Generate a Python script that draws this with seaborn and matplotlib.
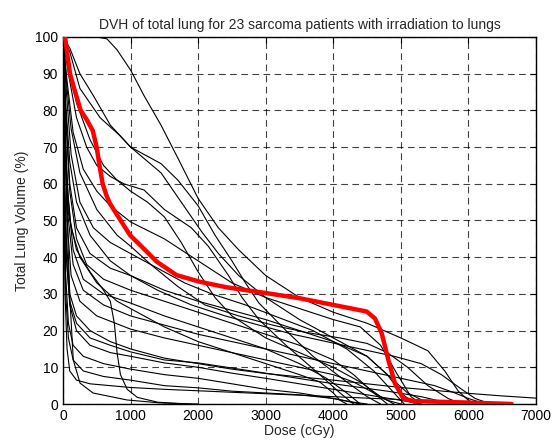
import numpy as np
import pandas as pd
import matplotlib
matplotlib.use("Agg")
import matplotlib.pyplot as plt
import seaborn as sns

# Dose (cGy) / volume (%) points, one pair per patient
dose_1 = [0, 500, 650, 800, 1000, 1200, 1450, 1700, 2000, 2300, 2600, 3000, 3500, 4000, 4500, 5000, 5400, 5650, 5850, 6000, 6100]
vol_1 = [100, 100, 99.5, 96.5, 91, 84, 76, 67, 56, 48, 42, 35, 29, 25, 22, 18, 14.5, 9, 3.5, 1, 0]
dose_2 = [0, 100, 250, 450, 700, 1000, 1450, 1750, 2050, 2300, 2600, 3000, 3500, 4000, 4500, 4800, 5100, 5400]
vol_2 = [100, 97, 90, 84, 76, 70, 63, 55, 47, 41, 35, 29, 23, 18, 13, 8, 3, 0.3]
dose_3 = [0, 100, 250, 550, 850, 1000, 1450, 1700, 2000, 2250, 2500, 2700, 2900, 3300, 3700, 4200, 4500, 4700]
vol_3 = [100, 96, 86, 78, 73, 70, 65.5, 61, 54, 46, 39, 33, 27.5, 20, 13, 6, 2, 0]
dose_4 = [0, 100, 200, 400, 600, 800, 1000, 1250, 1500, 1750, 2000, 2250, 2500, 3000, 3500, 4000, 4400, 4700, 4900]
vol_4 = [100, 92, 82, 72, 65, 61, 58, 55, 51, 44, 36, 29, 24, 18, 14, 10, 6, 2, 0]
dose_5 = [0, 80, 200, 350, 500, 700, 900, 1200, 1500, 1900, 2150, 2450, 2650, 2900, 3300, 3800, 4100, 4300]
vol_5 = [100, 90, 78, 70, 65, 62, 60, 58.3, 53, 48, 43, 35, 29, 23, 16, 8, 3, 0]
dose_6 = [0, 60, 150, 300, 500, 700, 1000, 1500, 2000, 2500, 3000, 3500, 4000, 4400, 4700, 4950, 5150, 5300]
vol_6 = [100, 88, 74, 64, 58, 54, 49.6, 45, 39, 33, 29, 26, 23, 21, 16, 8, 2, 0]
dose_7 = [0, 50, 120, 250, 450, 700, 1000, 1400, 1800, 2200, 2700, 3200, 3700, 4200, 4600, 4900, 5050]
vol_7 = [100, 85, 68, 55, 48, 44, 41, 37, 33, 30, 27, 23.5, 20, 15, 9, 3, 0]
dose_8 = [0, 40, 100, 200, 400, 700, 1000, 1500, 2000, 2500, 3000, 3500, 4000, 4500, 4800, 5000, 5200]
vol_8 = [100, 80, 60, 48, 41, 37, 35, 31, 28, 25.5, 23, 20, 17, 13, 8, 3, 0.2]
dose_9 = [0, 40, 100, 200, 350, 600, 1000, 1500, 2000, 2500, 3000, 3500, 4000, 4300, 4600, 4800]
vol_9 = [100, 78, 58, 45, 38, 34, 31, 28, 25, 22, 19, 16, 12, 8, 3, 0]
dose_10 = [0, 30, 80, 150, 300, 600, 1000, 1500, 2000, 2500, 3000, 3500, 3900, 4200, 4400]
vol_10 = [100, 75, 55, 42, 34, 30, 27.5, 24, 21, 18, 15, 11, 7, 3, 0]
dose_11 = [0, 30, 70, 150, 300, 600, 1000, 1500, 2000, 2500, 3000, 3500, 4000, 4500, 5000, 5500, 5800, 6000, 6200]
vol_11 = [100, 72, 52, 38, 31, 27, 24, 21.5, 19, 17, 15, 13, 11, 9, 7, 5, 3, 1.5, 0.3]
dose_12 = [0, 30, 60, 120, 250, 500, 1000, 1500, 2000, 2500, 3000, 3500, 4000, 4300, 4600, 4800, 5000]
vol_12 = [100, 70, 50, 35, 28, 24, 20.4, 18, 16, 14, 12, 10, 8, 6, 3, 1, 0]
dose_13 = [0, 20, 50, 100, 200, 400, 700, 1000, 1500, 2000, 2500, 3000, 3500, 4000, 4500, 5000, 5500, 6000, 6500, 7000]
vol_13 = [100, 65, 45, 30, 24, 20, 17, 15, 12.5, 11, 9.5, 8.3, 7.4, 6.5, 5.5, 4.5, 3.7, 2.9, 2.2, 1.6]
dose_14 = [0, 20, 50, 100, 200, 400, 700, 1000, 1500, 2000, 2500, 3000, 3500, 4000, 4500, 5000, 5300]
vol_14 = [100, 60, 40, 27, 20, 16, 14, 13, 11.2, 10, 8.4, 7, 5.5, 4, 2.5, 1, 0]
dose_15 = [0, 20, 40, 80, 150, 300, 600, 1000, 1500, 2000, 2500, 3000, 3500, 4000, 4300, 4500]
vol_15 = [100, 55, 35, 22, 16, 13, 11, 9.5, 8, 7, 5.5, 4, 3, 1.5, 0.5, 0]
dose_16 = [0, 20, 40, 80, 150, 300, 600, 1000, 1500, 2000, 2500, 3000, 3500, 4000, 4400]
vol_16 = [100, 50, 30, 18, 12, 9, 7.5, 6.5, 5, 4.4, 3.5, 3, 2.5, 1.5, 0]
dose_17 = [0, 20, 50, 80, 104, 152, 252, 444, 947, 1435, 2000]
vol_17 = [100, 85, 60, 40, 28, 12, 5.7, 3, 1.1, 0.3, 0]
dose_18 = [0, 30, 80, 200, 400, 600, 700, 760, 800, 850, 950, 1100, 1400, 1800]
vol_18 = [100, 70, 52, 42, 36, 31, 28, 22, 14, 8, 4, 1.8, 0.5, 0]
dose_19 = [0, 30, 60, 120, 250, 500, 800, 1000, 1500, 2000, 2500, 3000, 3500, 3800, 4000, 4100, 4200]
vol_19 = [100, 75, 60, 48, 40, 33, 28, 26, 21, 17, 14, 11, 8, 6, 3, 1, 0]
dose_20 = [0, 20, 50, 100, 200, 400, 700, 1000, 1500, 2000, 3000, 3650, 4200, 4800, 5300, 5600, 5800]
vol_20 = [100, 60, 40, 28, 22, 18, 16, 14.2, 12, 11.2, 8.4, 6.5, 5, 3.5, 2, 0.7, 0]
dose_21 = [0, 50, 120, 250, 500, 800, 1000, 1300, 1700, 2100, 2600, 3100, 3600, 4100, 4500, 4800, 5100, 5400, 5700, 5900]
vol_21 = [100, 88, 75, 63, 53, 46, 43, 38, 32, 27, 24, 21.5, 19.5, 18, 16.5, 14, 10, 5, 1.5, 0]
dose_22 = [0, 40, 100, 200, 400, 700, 1000, 1400, 1900, 2400, 2900, 3400, 3900, 4400, 4900, 5300, 5600, 5900, 6100, 6300]
vol_22 = [100, 82, 66, 55, 46, 39, 35, 31, 27, 24, 21.5, 19, 17, 15, 13, 11, 8, 4, 1.5, 0.2]
dose_23 = [0, 15, 30, 60, 100, 200, 400, 700, 1000, 1500, 2000, 2500, 3000, 3500, 4000, 4500, 5000, 5500, 6000, 6300]
vol_23 = [100, 55, 30, 15, 9, 6.5, 5.5, 5, 4.5, 4, 3.6, 3.2, 2.8, 2.4, 2, 1.6, 1.2, 0.8, 0.4, 0]

# Highlighted patient (red)
dose_red = [0, 30, 104, 180, 262, 350, 440, 498, 540, 587, 640, 695, 819, 992, 1164, 1386, 1682,
            2027, 2422, 3014, 3507, 4000, 4494, 4617, 4716, 4815, 4913, 5036, 5184, 5975, 6640]
vol_red = [100, 100, 90, 85, 80, 77.5, 74.5, 70, 65, 60, 57, 54.6, 51, 46, 42.9, 38.8, 35.1,
           33.3, 31.8, 30.2, 28.8, 27, 25.2, 23.3, 19.3, 12, 5.6, 1.5, 0.8, 0.4, 0]

x_ticks = [0, 1000, 2000, 3000, 4000, 5000, 6000, 7000]
y_ticks = [0, 10, 20, 30, 40, 50, 60, 70, 80, 90, 100]

doses = [dose_1, dose_2, dose_3, dose_4, dose_5, dose_6, dose_7, dose_8, dose_9, dose_10, dose_11,
         dose_12, dose_13, dose_14, dose_15, dose_16, dose_17, dose_18, dose_19, dose_20, dose_21,
         dose_22, dose_23]
vols = [vol_1, vol_2, vol_3, vol_4, vol_5, vol_6, vol_7, vol_8, vol_9, vol_10, vol_11,
        vol_12, vol_13, vol_14, vol_15, vol_16, vol_17, vol_18, vol_19, vol_20, vol_21,
        vol_22, vol_23]

rows = []
for i, (d, v) in enumerate(zip(doses, vols)):
    for k, (dd, vv) in enumerate(zip(d, v)):
        rows.append({"patient": f"p{i+1}", "order": k, "dose": dd, "volume": vv})
df = pd.DataFrame(rows)
df_red = pd.DataFrame({"dose": dose_red, "volume": vol_red})

sns.set_style("white")
plt.rcParams["font.family"] = ["Liberation Sans", "DejaVu Sans"]

fig = plt.figure(figsize=(5.52, 4.46), dpi=100)
ax = fig.add_axes([63 / 552, 1 - 404 / 446, 473 / 552, 367 / 446])

n = df["patient"].nunique()
sns.lineplot(data=df, x="dose", y="volume", hue="patient", estimator=None,
             sort=False, palette=["black"] * n, linewidth=0.8, legend=False, ax=ax)
sns.lineplot(data=df_red, x="dose", y="volume", estimator=None, sort=False,
             color="#ff0000", linewidth=3.2, ax=ax, zorder=5)

ax.set_xlim(0, 7000)
ax.set_ylim(0, 100)
ax.set_xticks(x_ticks)
ax.set_yticks(y_ticks)
ax.set_xticklabels([str(t) for t in x_ticks])
ax.set_yticklabels([str(t) for t in y_ticks])
ax.grid(True, color="black", linestyle=(0, (6, 4)), linewidth=0.8, alpha=0.75)
ax.set_axisbelow(True)
ax.tick_params(direction="in", top=True, right=True, length=4, labelsize=10,
               colors="black", width=0.8)
for s in ax.spines.values():
    s.set_color("black")
    s.set_linewidth(1.0)

ax.set_xlabel("Dose (cGy)", fontsize=10, labelpad=1)
ax.set_ylabel("Total Lung Volume (%)", fontsize=10, labelpad=4)
ax.set_title("DVH of total lung for 23 sarcoma patients with irradiation to lungs",
             fontsize=10, pad=6)

fig.savefig("out.png", dpi=100)
